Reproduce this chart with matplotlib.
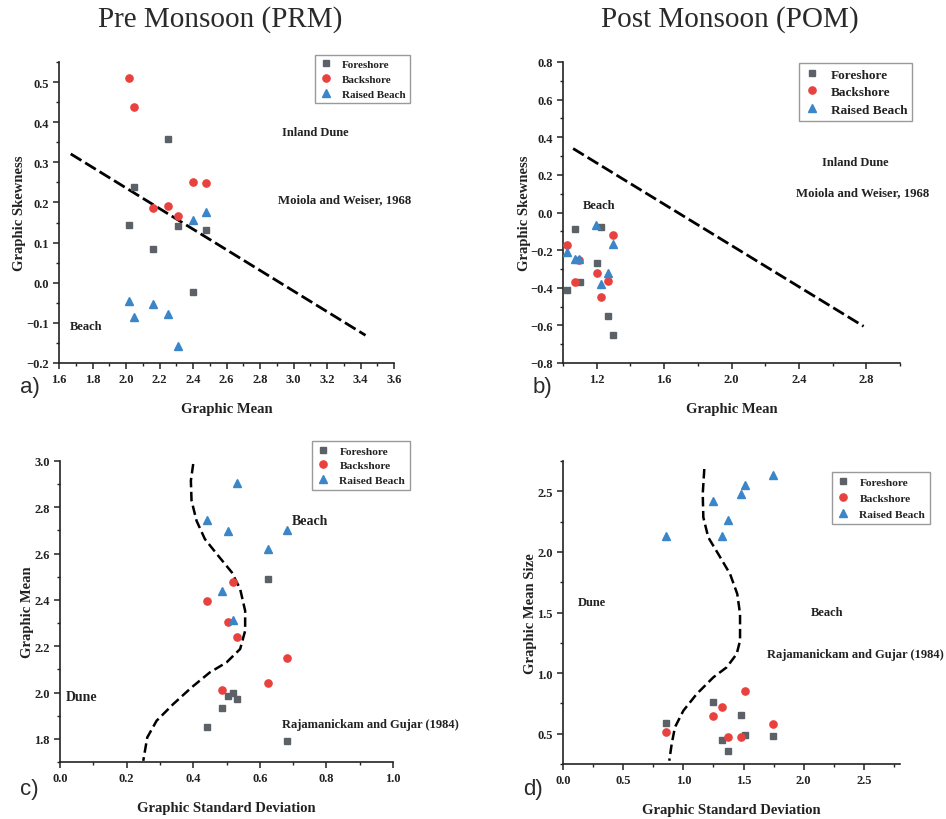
import matplotlib
matplotlib.use("Agg")
import matplotlib.pyplot as plt
from matplotlib.ticker import MultipleLocator
from matplotlib.lines import Line2D

# ---------------- data ----------------
# Panel a: Pre Monsoon - Graphic Mean vs Graphic Skewness
a_fore_x = [2.25, 2.05, 2.02, 2.31, 2.48, 2.16, 2.40]
a_fore_y = [0.358, 0.239, 0.145, 0.142, 0.132, 0.083, -0.022]
a_back_x = [2.02, 2.05, 2.40, 2.48, 2.25, 2.16, 2.31]
a_back_y = [0.510, 0.438, 0.250, 0.248, 0.192, 0.186, 0.167]
a_rais_x = [2.48, 2.40, 2.02, 2.16, 2.25, 2.05, 2.31]
a_rais_y = [0.176, 0.156, -0.045, -0.054, -0.077, -0.085, -0.158]
a_line_x = [1.67, 3.43]
a_line_y = [0.321, -0.131]

# Panel b: Post Monsoon - Graphic Mean vs Graphic Skewness
b_fore_x = [1.074, 1.226, 1.20, 1.10, 1.026, 1.27, 1.294]
b_fore_y = [-0.088, -0.076, -0.271, -0.372, -0.412, -0.552, -0.651]
b_back_x = [1.026, 1.294, 1.094, 1.20, 1.07, 1.27, 1.226]
b_back_y = [-0.172, -0.120, -0.251, -0.322, -0.372, -0.363, -0.451]
b_rais_x = [1.194, 1.294, 1.026, 1.07, 1.094, 1.27, 1.226]
b_rais_y = [-0.065, -0.168, -0.209, -0.248, -0.248, -0.319, -0.379]
b_line_x = [1.06, 2.784]
b_line_y = [0.340, -0.605]

# Panel c: Pre Monsoon - Graphic Std Dev vs Graphic Mean
c_fore_x = [0.625, 0.519, 0.505, 0.533, 0.486, 0.44, 0.682]
c_fore_y = [2.491, 1.996, 1.984, 1.974, 1.934, 1.850, 1.790]
c_back_x = [0.519, 0.44, 0.505, 0.533, 0.682, 0.625, 0.486]
c_back_y = [2.478, 2.396, 2.305, 2.240, 2.151, 2.043, 2.013]
c_rais_x = [0.533, 0.44, 0.505, 0.682, 0.625, 0.486, 0.519]
c_rais_y = [2.906, 2.744, 2.698, 2.701, 2.619, 2.437, 2.314]
c_curve_x = [0.400, 0.393, 0.395, 0.410, 0.435, 0.475, 0.516, 0.541, 0.556,
             0.556, 0.541, 0.500, 0.450, 0.395, 0.340, 0.290, 0.262, 0.250]
c_curve_y = [2.987, 2.915, 2.829, 2.742, 2.663, 2.591, 2.519, 2.447, 2.353,
             2.267, 2.188, 2.130, 2.087, 2.022, 1.950, 1.878, 1.806, 1.705]

# Panel d: Post Monsoon - Graphic Std Dev vs Graphic Mean Size
d_fore_x = [1.244, 1.475, 0.858, 1.514, 1.744, 1.325, 1.367]
d_fore_y = [0.762, 0.652, 0.591, 0.492, 0.481, 0.450, 0.359]
d_back_x = [1.514, 1.325, 1.744, 1.244, 0.858, 1.367, 1.475]
d_back_y = [0.854, 0.721, 0.580, 0.644, 0.511, 0.470, 0.470]
d_rais_x = [1.744, 1.514, 1.475, 1.244, 1.367, 0.858, 1.325]
d_rais_y = [2.633, 2.553, 2.481, 2.420, 2.260, 2.130, 2.130]
d_curve_x = [1.174, 1.161, 1.166, 1.207, 1.290, 1.388, 1.448, 1.471, 1.471,
             1.443, 1.360, 1.249, 1.111, 1.000, 0.930, 0.903, 0.883]
d_curve_y = [2.684, 2.478, 2.285, 2.120, 1.983, 1.818, 1.653, 1.488, 1.267,
             1.158, 1.048, 0.965, 0.828, 0.690, 0.553, 0.415, 0.277]

series_names = ["Foreshore", "Backshore", "Raised Beach"]
# ---------------------------------------

COL_F = "#5b6167"
COL_B = "#e8413e"
COL_R = "#3a86c8"
SERIF = "Liberation Serif"

W, H = 946, 820
fig = plt.figure(figsize=(W / 100, H / 100), dpi=100)
fig.patch.set_facecolor("white")


def make_ax(l, r, t, b):
    return fig.add_axes([l / W, 1 - b / H, (r - l) / W, (b - t) / H])


def style(ax, xlim, ylim, xmaj, xmin, ymaj, ymin, xlabel, ylabel, ticksize=9,
          xlp=10, ylp=8):
    ax.set_xlim(*xlim)
    ax.set_ylim(*ylim)
    ax.xaxis.set_major_locator(MultipleLocator(xmaj))
    ax.xaxis.set_minor_locator(MultipleLocator(xmin))
    ax.yaxis.set_major_locator(MultipleLocator(ymaj))
    ax.yaxis.set_minor_locator(MultipleLocator(ymin))
    for s in ["top", "right"]:
        ax.spines[s].set_visible(False)
    for s in ["left", "bottom"]:
        ax.spines[s].set_linewidth(1.2)
        ax.spines[s].set_color("#222222")
    ax.tick_params(which="major", direction="out", length=4, width=1.1,
                   colors="#222222")
    ax.tick_params(which="minor", direction="out", length=2.5, width=1.0,
                   colors="#222222")
    for lab in ax.get_xticklabels() + ax.get_yticklabels():
        lab.set_fontfamily(SERIF)
        lab.set_fontweight("bold")
        lab.set_fontsize(ticksize)
    ax.set_xlabel(xlabel, fontfamily=SERIF, fontweight="bold", fontsize=10.5,
                  labelpad=xlp, color="#222222")
    ax.set_ylabel(ylabel, fontfamily=SERIF, fontweight="bold", fontsize=10.5,
                  labelpad=ylp, color="#222222")


def scatter3(ax, fx, fy, bx, by, rx, ry, ms=5.2):
    ax.plot(fx, fy, ls="none", marker="s", ms=ms * 0.95, color=COL_F, zorder=3)
    ax.plot(bx, by, ls="none", marker="o", ms=ms, color=COL_B, zorder=3)
    ax.plot(rx, ry, ls="none", marker="^", ms=ms * 1.1, color=COL_R, zorder=3)


def legend(ax, box, fs, spacing, ms=5.2):
    l, t = box
    handles = [
        Line2D([], [], ls="none", marker="s", ms=ms * 0.95, color=COL_F),
        Line2D([], [], ls="none", marker="o", ms=ms, color=COL_B),
        Line2D([], [], ls="none", marker="^", ms=ms * 1.1, color=COL_R),
    ]
    leg = ax.legend(handles, series_names, loc="upper left",
                    bbox_to_anchor=(l / W, 1 - t / H),
                    bbox_transform=fig.transFigure,
                    prop={"family": SERIF, "weight": "bold", "size": fs},
                    frameon=True, fancybox=False, framealpha=1,
                    edgecolor="#9a9a9a", borderpad=0.4, labelspacing=spacing,
                    handletextpad=0.8, handlelength=1.2, borderaxespad=0)
    leg.get_frame().set_linewidth(1.0)
    for t_ in leg.get_texts():
        t_.set_color("#222222")


def ax_text(ax, fx, fy, s, ha="left", fs=9):
    ax.text(fx, fy, s, transform=ax.transAxes, ha=ha, va="center",
            fontfamily=SERIF, fontweight="bold", fontsize=fs, color="#222222")


# ---- panel a ----
axa = make_ax(59, 394, 63, 364)
axa.plot(a_line_x, a_line_y, color="black", lw=2.0, dashes=(4.5, 1.6), zorder=2)
scatter3(axa, a_fore_x, a_fore_y, a_back_x, a_back_y, a_rais_x, a_rais_y)
style(axa, (1.6, 3.6), (-0.2, 0.55), 0.2, 0.1, 0.1, 0.05,
      "Graphic Mean", "Graphic Skewness", xlp=12, ylp=0)
legend(axa, (315, 56), 8, 0.45)
ax_text(axa, 0.764, 0.767, "Inland Dune", ha="center")
ax_text(axa, 0.654, 0.545, "Moiola and Weiser, 1968", fs=9.2)
ax_text(axa, 0.033, 0.123, "Beach")

# ---- panel b ----
axb = make_ax(563, 900, 63, 364)
axb.plot(b_line_x, b_line_y, color="black", lw=2.0, dashes=(4.5, 1.6), zorder=2)
scatter3(axb, b_fore_x, b_fore_y, b_back_x, b_back_y, b_rais_x, b_rais_y)
style(axb, (1.0, 3.0), (-0.8, 0.8), 0.4, 0.2, 0.2, 0.1,
      "Graphic Mean", "Graphic Skewness", xlp=12, ylp=-1)
legend(axb, (799, 64), 9.5, 0.4)
ax_text(axb, 0.866, 0.668, "Inland Dune", ha="center")
ax_text(axb, 0.691, 0.568, "Moiola and Weiser, 1968", fs=9.2)
ax_text(axb, 0.107, 0.525, "Beach", ha="center")

# ---- panel c ----
axc = make_ax(60, 393, 462, 763)
axc.plot(c_curve_x, c_curve_y, color="black", lw=1.8, dashes=(3.8, 1.8), zorder=2)
scatter3(axc, c_fore_x, c_fore_y, c_back_x, c_back_y, c_rais_x, c_rais_y)
style(axc, (0.0, 1.0), (1.7, 3.0), 0.2, 0.1, 0.2, 0.1,
      "Graphic Standard Deviation", "Graphic Mean", xlp=12, ylp=0)
legend(axc, (312, 442), 8.2, 0.42)
ax_text(axc, 0.751, 0.801, "Beach", ha="center", fs=10)
ax_text(axc, 0.066, 0.219, "Dune", ha="center", fs=10)
ax_text(axc, 0.667, 0.126, "Rajamanickam and Gujar (1984)")

# ---- panel d ----
axd = make_ax(563, 900, 462, 765)
axd.plot(d_curve_x, d_curve_y, color="black", lw=1.8, dashes=(3.8, 1.8), zorder=2)
scatter3(axd, d_fore_x, d_fore_y, d_back_x, d_back_y, d_rais_x, d_rais_y)
style(axd, (0.0, 2.8), (0.25, 2.75), 0.5, 0.25, 0.5, 0.25,
      "Graphic Standard Deviation", "Graphic Mean Size", xlp=12, ylp=0)
legend(axd, (832, 473), 8.2, 0.55)
ax_text(axd, 0.086, 0.535, "Dune", ha="center")
ax_text(axd, 0.783, 0.502, "Beach", ha="center")
ax_text(axd, 0.605, 0.363, "Rajamanickam and Gujar (1984)")

# ---- titles & panel letters ----
fig.text(220 / W, 1 - 20 / H, "Pre Monsoon (PRM)", ha="center", va="center",
         fontfamily=SERIF, fontsize=21, color="#2a2a2a")
fig.text(730 / W, 1 - 20 / H, "Post Monsoon (POM)", ha="center", va="center",
         fontfamily=SERIF, fontsize=21, color="#2a2a2a")
for lx, ly, s in [(20, 388, "a)"), (533, 388, "b)"), (20, 790, "c)"),
                  (523, 790, "d)")]:
    fig.text(lx / W, 1 - ly / H, s, ha="left", va="center",
             fontfamily="Liberation Sans", fontsize=16, color="#2a2a2a")

fig.savefig("out.png", dpi=100, facecolor="white")
